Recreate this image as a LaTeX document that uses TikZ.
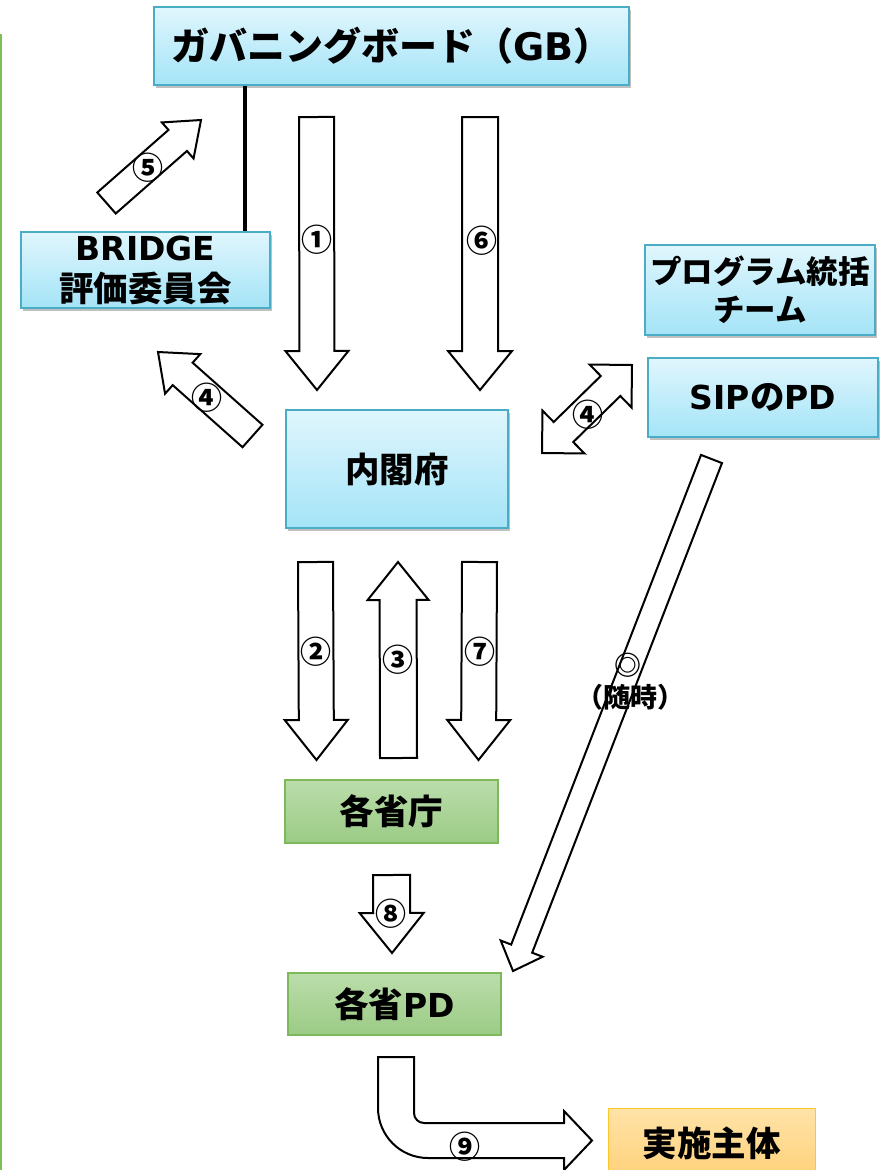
\documentclass[tikz,border=0pt]{standalone}
\usepackage{fontspec}
\setmainfont{Noto Sans CJK JP}
\newfontfamily\lat{DejaVu Sans}
\usetikzlibrary{calc,shadows}
\definecolor{cyantop}{HTML}{E0F6FD}
\definecolor{cyanbot}{HTML}{A4E4F7}
\definecolor{cyanbord}{HTML}{4AACC5}
\definecolor{greentop}{HTML}{BBDDAB}
\definecolor{greenbot}{HTML}{9BCB85}
\definecolor{greenbord}{HTML}{7DB85B}
\definecolor{orangetop}{HTML}{FFE3A8}
\definecolor{orangebot}{HTML}{FFD17A}
\definecolor{orangebord}{HTML}{FFC629}
\definecolor{leftgreen}{HTML}{7CBF55}
\newcommand\latbig[1]{{\lat\fontsize{33}{34}\selectfont #1}}
\tikzset{
  boxbase/.style={inner sep=0pt, align=center, font=\bfseries\fontsize{34.5}{40}\selectfont},
  cyanbox/.style={boxbase, draw=cyanbord, line width=1.5pt, top color=cyantop, bottom color=cyanbot,
    drop shadow={shadow xshift=2pt, shadow yshift=-3pt, opacity=0.35, fill=black!70}},
  greenbox/.style={boxbase, draw=greenbord, line width=1.2pt, top color=greentop, bottom color=greenbot},
  orangebox/.style={boxbase, draw=orangebord, line width=1pt, top color=orangetop, bottom color=orangebot},
  barrow/.style={draw=black, line width=2pt, fill=white, line join=miter, miter limit=10},
  num/.style={inner sep=0pt, font=\bfseries\fontsize{31}{31}\selectfont},
  smalltxt/.style={inner sep=0pt, font=\bfseries\fontsize{27}{27}\selectfont},
  leftline/.style={draw=leftgreen, line width=2pt},
  gbline/.style={draw=black, line width=4.5pt},
}
% tail, tip, half shaft, half head, head length
\newcommand\barr[5]{%
  \coordinate (hb) at ($(#2)!#5!(#1)$);
  \draw[barrow] ($(#1)!#3!90:(#2)$) -- ($(hb)!#3!90:(#2)$) -- ($(hb)!#4!90:(#2)$) -- (#2)
    -- ($(hb)!#4!-90:(#2)$) -- ($(hb)!#3!-90:(#2)$) -- ($(#1)!#3!-90:(#2)$) -- cycle;}
% tip A, tip B, half shaft, half head, head length
\newcommand\darr[5]{%
  \coordinate (ha) at ($(#1)!#5!(#2)$);
  \coordinate (hb) at ($(#2)!#5!(#1)$);
  \draw[barrow] (#1) -- ($(ha)!#4!90:(#2)$) -- ($(ha)!#3!90:(#2)$) -- ($(hb)!#3!-90:(#1)$)
    -- ($(hb)!#4!-90:(#1)$) -- (#2) -- ($(hb)!#4!90:(#1)$) -- ($(hb)!#3!90:(#1)$)
    -- ($(ha)!#3!-90:(#2)$) -- ($(ha)!#4!-90:(#2)$) -- cycle;}
\begin{document}
\begin{tikzpicture}[x=1pt,y=1pt]
\path[use as bounding box] (0,0) rectangle (879,-1170);
\fill[white] (0,0) rectangle (879,-1170);

% left green line
\draw[leftline] (1,-34) -- (1,-1172);

% boxes
\node[cyanbox, minimum width=475pt, minimum height=78pt] (gb) at (391.5,-46)
  {\fontsize{38}{40}\selectfont ガバニングボード（{\lat GB}）};
\node[cyanbox, minimum width=249pt, minimum height=76pt, font=\bfseries\fontsize{34.5}{41}\selectfont] (bridge) at (145.5,-270)
  {\latbig{BRIDGE}\\評価委員会};
\node[cyanbox, minimum width=230pt, minimum height=90pt, font=\bfseries\fontsize{31.5}{38}\selectfont] (team) at (760,-290)
  {プログラム統括\\チーム};
\node[cyanbox, minimum width=230pt, minimum height=79pt] (sip) at (763,-397.5)
  {\latbig{SIP}の\latbig{PD}};
\node[cyanbox, minimum width=222pt, minimum height=118pt] (cao) at (397,-469) {内閣府};
\node[greenbox, minimum width=213pt, minimum height=63pt] (min) at (391.5,-811.5) {各省庁};
\node[greenbox, minimum width=213pt, minimum height=62pt] (mpd) at (394.5,-1004)
  {各省\latbig{PD}};
\node[orangebox, minimum width=207pt, minimum height=70pt] (exec) at (711.5,-1143) {実施主体};

% GB - BRIDGE line
\coordinate (lx) at (245,0);
\draw[gbline] (gb.south -| lx) -- (bridge.north -| lx);

% arrow end points
\coordinate (a1t) at (316.5,-117);  \coordinate (a1h) at (317,-390);
\coordinate (a6t) at (480,-117);    \coordinate (a6h) at (480,-390);
\coordinate (a2t) at (315.5,-562);  \coordinate (a2h) at (316.5,-760);
\coordinate (a7t) at (479.5,-562);  \coordinate (a7h) at (478.5,-760);
\coordinate (a3t) at (398.5,-758);  \coordinate (a3h) at (398,-562);
\coordinate (a8t) at (391.5,-875);  \coordinate (a8h) at (392,-953);
\coordinate (a5t) at (106.5,-203);  \coordinate (a5h) at (201,-120);
\coordinate (a4t) at (252.5,-436);  \coordinate (a4h) at (158,-352);
\coordinate (d4a) at (542,-453);    \coordinate (d4b) at (632,-365);
\coordinate (alt) at (711.5,-459);  \coordinate (alh) at (513,-971);

\barr{a1t}{a1h}{17.5pt}{31.5pt}{39pt}
\barr{a6t}{a6h}{18pt}{32pt}{39pt}
\barr{a2t}{a2h}{17.5pt}{31.5pt}{40pt}
\barr{a7t}{a7h}{17.5pt}{31.5pt}{40pt}
\barr{a3t}{a3h}{18.5pt}{30.5pt}{38pt}
\barr{a8t}{a8h}{18.5pt}{32pt}{40pt}
\barr{a5t}{a5h}{14pt}{24pt}{31pt}
\barr{a4t}{a4h}{15pt}{26.5pt}{33pt}
\darr{d4a}{d4b}{14pt}{30pt}{30pt}
\barr{alt}{alh}{11.25pt}{22.5pt}{24pt}

% bent arrow 9
\draw[barrow] (378,-1057) -- (414,-1057) -- (414,-1113)
  arc[start angle=180, end angle=270, radius=10] -- (564,-1123) -- (564,-1111)
  -- (592,-1140.5) -- (564,-1170) -- (564,-1158) -- (428,-1158)
  arc[start angle=270, end angle=180, radius=50] -- cycle;

% labels
\node[num] (n1) at (317,-240) {①};
\node[num] (n6) at (482,-241) {⑥};
\node[num] (n5) at (148,-168) {⑤};
\node[num] (n4a) at (207,-398) {④};
\node[num] (n4b) at (588,-415) {④};
\node[num] (n2) at (316,-652) {②};
\node[num] (n3) at (398,-660) {③};
\node[num] (n7) at (480,-652) {⑦};
\node[num] (n8) at (391,-914) {⑧};
\node[num] (n9) at (465,-1147) {⑨};
\node[smalltxt] (nd) at (628,-665) {◎};
\node[smalltxt] (nz) at (630,-697) {（随時）};
\end{tikzpicture}
\end{document}
